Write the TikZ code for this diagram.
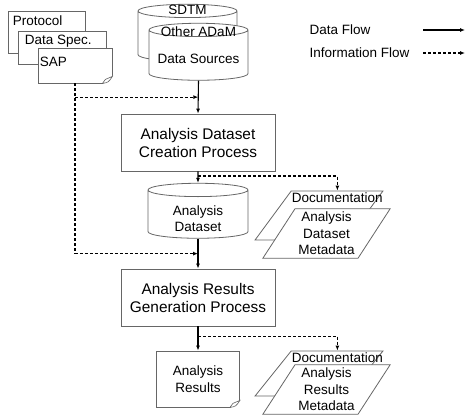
\documentclass[tikz,border=0pt]{standalone}
\usepackage{fontspec}
\setmainfont{Liberation Sans}
\usetikzlibrary{positioning,shapes.geometric,arrows.meta,calc}

\tikzset{
	edge/.style={draw=black!60, line width=0.8pt},
	box/.style={edge, fill=white, minimum width=154pt, minimum height=57pt, align=center, font=\fontsize{15.4}{18}\selectfont},
	drum/.style={edge, fill=white, cylinder, shape border rotate=90, aspect=2, minimum width=99pt, minimum height=57pt, align=center},
	sheet/.style={edge, fill=white, rectangle, align=center},
	slant/.style={edge, fill=white, trapezium, trapezium left angle=57, trapezium right angle=123, trapezium stretches=true, align=center, font=\fontsize{13.5}{16.5}\selectfont},
	flow/.style={line width=1.1pt, -{Latex[length=5pt,width=4pt]}},
	info/.style={line width=1.1pt, dash pattern=on 3pt off 2pt, -{Latex[length=5pt,width=4pt]}},
}

\begin{document}
\begin{tikzpicture}[x=1pt, y=-1pt, font=\fontsize{13.5}{16.5}\selectfont]
	\useasboundingbox (0,0) rectangle (474,420);

	% input documents
	\node[sheet, minimum width=77pt, minimum height=42pt, label={[anchor=north west, inner sep=2pt, xshift=3pt, yshift=-3pt]north west:Protocol}] (protocol) at (46.5,32) {};
	\node[sheet, minimum width=88pt, minimum height=33pt, label={[anchor=north west, inner sep=2pt, xshift=5pt, yshift=-2pt]north west:Data Spec.}] (spec) at (62,47.5) {};
	\node[sheet, minimum width=74pt, minimum height=35pt, label={[anchor=north west, inner sep=2pt, xshift=0pt, yshift=-7pt]north west:SAP}] (sap) at (75,65.5) {};

	% data sources
	\node[drum] (sdtm) at (187.5,37.5) {};
	\node[below=0pt of sdtm.north, inner sep=1pt] {SDTM};
	\node[drum] (src) at (198.5,56.5) {};
	\node[below=3pt of src.north, inner sep=1pt] {Other ADaM};
	\node at ([yshift=-2pt]src.center) {Data Sources};

	% main chain
	\node[box] (create) at (198,142.5) {Analysis Dataset\\Creation Process};
	\node[drum, minimum height=55pt, minimum width=100pt, label={[align=center, yshift=-3pt]center:Analysis\\Dataset}] (ads) at (198,215.5) {};
	\node[box] (gen) at (198,297.5) {Analysis Results\\Generation Process};
	\node[sheet, minimum width=83pt, minimum height=56pt] (res) at (198,379) {Analysis\\Results};

	% folded corners
	\foreach \d in {sap,res} {
		\fill[white] ([xshift=-10pt,yshift=-1pt]\d.south east) -- ([xshift=1pt,yshift=-1pt]\d.south east) -- ([xshift=1pt,yshift=8pt]\d.south east) -- cycle;
		\draw[edge, line width=0.6pt] ([xshift=-10pt]\d.south east) .. controls ([xshift=-4pt,yshift=1pt]\d.south east) .. ([yshift=7pt]\d.south east)
			-- ([xshift=-7pt,yshift=4pt]\d.south east) -- ([xshift=-10pt]\d.south east);
	}

	% metadata
	\node[slant, minimum width=128pt, minimum height=49pt] (meta1a) at (319,215.5) {};
	\node[below=0pt of meta1a.top side, inner sep=2pt] {Documentation};
	\node[slant, minimum width=123pt, minimum height=49pt] (meta1b) at (326.5,233.5) {Analysis\\Dataset\\Metadata};
	\node[slant, minimum width=128pt, minimum height=45pt] (meta2a) at (319,373.5) {};
	\node[below=0pt of meta2a.top side, inner sep=2pt] {Documentation};
	\node[slant, minimum width=123pt, minimum height=45pt] (meta2b) at (326.5,389.5) {Analysis\\Results\\Metadata};

	% data flow
	\draw[flow] (src.south) -- (create.north);
	\draw[flow] (create.south) -- (ads.north);
	\draw[flow] (ads.south) -- (gen.north);
	\draw[flow] (gen.south) -- (res.north);

	% information flow
	\coordinate (j1) at ($(src.south)!0.5!(create.north)$);
	\coordinate (k1) at ($(create.south)!0.4!(ads.north)$);
	\coordinate (j2) at ($(ads.south)!0.5!(gen.north)$);
	\coordinate (k2) at ($(gen.south)!0.4!(res.north)$);
	\draw[info] (sap.south) |- (j2);
	\draw[info] (sap.south |- j1) -- (j1);
	\draw[info] (k1) -| (meta1a.top side);
	\draw[info] (k2) -| (meta2a.top side);

	% legend
	\node[anchor=west] (dflow) at (306,30) {Data Flow};
	\node[anchor=west] (iflow) at (306,53) {Information Flow};
	\coordinate (d0) at (423,30);
	\coordinate (d1) at (465,30);
	\coordinate (i0) at (423,53);
	\coordinate (i1) at (465,53);
	\draw[flow] (d0) -- (d1);
	\draw[info] (i0) -- (i1);
\end{tikzpicture}
\end{document}
